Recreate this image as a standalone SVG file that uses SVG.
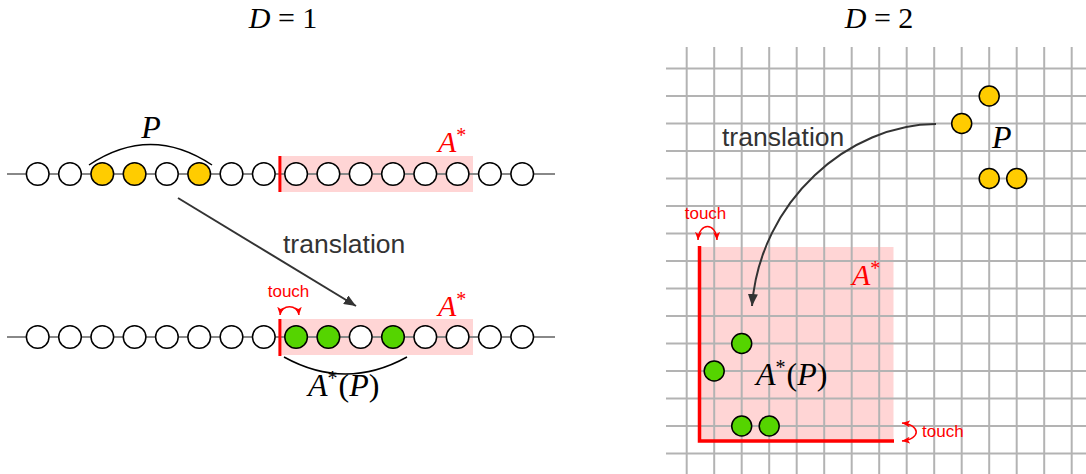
<svg xmlns="http://www.w3.org/2000/svg" width="1086" height="474" viewBox="0 0 1086 474">
<style>
.wire{stroke:#888;stroke-width:2;fill:none}
.c{fill:#fff;stroke:#000;stroke-width:1.5}
.y{fill:#ffcc00;stroke:#000;stroke-width:1.5}
.g{fill:#55d400;stroke:#000;stroke-width:1.5}
.grid line{stroke:#b3b3b3;stroke-width:2}
.math{font-family:"Liberation Serif","DejaVu Serif",serif;font-size:30px}
.big{font-size:32px}
.it{font-style:italic}
.red{fill:#ff0000}
.sans{font-family:"Liberation Sans",Arial,sans-serif}
.tr{font-size:26.5px;fill:#333}
.touch{font-size:17px;fill:#ff0000}
.brace{fill:none;stroke:#000;stroke-width:1.5}
.arrow{fill:none;stroke:#333;stroke-width:2}
.tarrow{fill:none;stroke:#ff0000;stroke-width:1.5}
</style>
<defs>
<marker id="ah" viewBox="0 0 12 10" refX="12" refY="5" markerWidth="12" markerHeight="10" markerUnits="userSpaceOnUse" orient="auto"><path d="M0,0 L12,5 L0,10 z" fill="#333"/></marker>
<marker id="rh" viewBox="0 0 8 7" refX="8" refY="3.5" markerWidth="8" markerHeight="7" markerUnits="userSpaceOnUse" orient="auto-start-reverse"><path d="M0,0 L8,3.5 L0,7 L2,3.5 z" fill="#ff0000"/></marker>
</defs>
<rect width="1086" height="474" fill="#fff"/>

<!-- titles -->
<g id="title-d1"><text class="math" x="283" y="28" text-anchor="middle"><tspan class="it">D</tspan> = 1</text></g>
<g id="title-d2"><text class="math" x="879" y="28" text-anchor="middle"><tspan class="it">D</tspan> = 2</text></g>

<!-- ===== D=1 panel ===== -->
<g id="region-a-top"><rect x="281" y="156" width="192" height="36" fill="#ffd5d5"/></g>
<g id="region-a-bottom"><rect x="281" y="319" width="192" height="36" fill="#ffd5d5"/></g>
<line class="wire" x1="7" y1="174" x2="555" y2="174"/>
<line class="wire" x1="7" y1="337" x2="555" y2="337"/>

<g id="row-top">
<g id="t0"><circle class="c" cx="37.7" cy="174" r="11.3"/></g>
<g id="t1"><circle class="c" cx="70" cy="174" r="11.3"/></g>
<g id="t2"><circle class="y" cx="102.3" cy="174" r="11.3"/></g>
<g id="t3"><circle class="y" cx="134.6" cy="174" r="11.3"/></g>
<g id="t4"><circle class="c" cx="166.9" cy="174" r="11.3"/></g>
<g id="t5"><circle class="y" cx="199.2" cy="174" r="11.3"/></g>
<g id="t6"><circle class="c" cx="231.5" cy="174" r="11.3"/></g>
<g id="t7"><circle class="c" cx="263.8" cy="174" r="11.3"/></g>
<g id="t8"><circle class="c" cx="296.1" cy="174" r="11.3"/></g>
<g id="t9"><circle class="c" cx="328.4" cy="174" r="11.3"/></g>
<g id="t10"><circle class="c" cx="360.7" cy="174" r="11.3"/></g>
<g id="t11"><circle class="c" cx="393" cy="174" r="11.3"/></g>
<g id="t12"><circle class="c" cx="425.3" cy="174" r="11.3"/></g>
<g id="t13"><circle class="c" cx="457.6" cy="174" r="11.3"/></g>
<g id="t14"><circle class="c" cx="489.9" cy="174" r="11.3"/></g>
<g id="t15"><circle class="c" cx="522.2" cy="174" r="11.3"/></g>
</g>
<g id="row-bottom">
<g id="b0"><circle class="c" cx="37.7" cy="337" r="11.3"/></g>
<g id="b1"><circle class="c" cx="70" cy="337" r="11.3"/></g>
<g id="b2"><circle class="c" cx="102.3" cy="337" r="11.3"/></g>
<g id="b3"><circle class="c" cx="134.6" cy="337" r="11.3"/></g>
<g id="b4"><circle class="c" cx="166.9" cy="337" r="11.3"/></g>
<g id="b5"><circle class="c" cx="199.2" cy="337" r="11.3"/></g>
<g id="b6"><circle class="c" cx="231.5" cy="337" r="11.3"/></g>
<g id="b7"><circle class="c" cx="263.8" cy="337" r="11.3"/></g>
<g id="b8"><circle class="g" cx="296.1" cy="337" r="11.3"/></g>
<g id="b9"><circle class="g" cx="328.4" cy="337" r="11.3"/></g>
<g id="b10"><circle class="c" cx="360.7" cy="337" r="11.3"/></g>
<g id="b11"><circle class="g" cx="393" cy="337" r="11.3"/></g>
<g id="b12"><circle class="c" cx="425.3" cy="337" r="11.3"/></g>
<g id="b13"><circle class="c" cx="457.6" cy="337" r="11.3"/></g>
<g id="b14"><circle class="c" cx="489.9" cy="337" r="11.3"/></g>
<g id="b15"><circle class="c" cx="522.2" cy="337" r="11.3"/></g>
</g>

<g id="boundary-top"><rect x="278.4" y="156" width="3" height="36" fill="#ff0000"/></g>
<g id="boundary-bottom"><rect x="278.4" y="319" width="3" height="37" fill="#ff0000"/></g>

<g id="label-p1">
<path class="brace" d="M89 165 Q150.5 124 212 165"/>
<text class="math big it" x="151" y="138" text-anchor="middle">P</text>
</g>
<g id="label-astar-top"><text class="math red" x="438" y="152"><tspan class="it">A</tspan><tspan font-size="20" dy="-10">*</tspan></text></g>
<g id="label-astar-bottom"><text class="math red" x="438" y="316"><tspan class="it">A</tspan><tspan font-size="20" dy="-10">*</tspan></text></g>
<g id="label-ap1">
<path class="brace" d="M284 357 Q345.5 391 407 357"/>
<text class="math big" x="308" y="396"><tspan class="it">A</tspan><tspan font-size="20" dy="-11">*</tspan><tspan dx="1" dy="11">(</tspan><tspan class="it">P</tspan>)</text>
</g>
<g id="label-touch1"><text class="sans touch" x="288.5" y="297" text-anchor="middle">touch</text></g>

<!-- ===== D=2 panel ===== -->
<g id="region-a-2d"><rect x="699.5" y="247" width="194" height="194" fill="#ffd5d5"/></g>
<g id="grid" class="grid">
<line x1="686.7" y1="47" x2="686.7" y2="474"/>
<line x1="714.2" y1="47" x2="714.2" y2="474"/>
<line x1="741.7" y1="47" x2="741.7" y2="474"/>
<line x1="769.2" y1="47" x2="769.2" y2="474"/>
<line x1="796.7" y1="47" x2="796.7" y2="474"/>
<line x1="824.2" y1="47" x2="824.2" y2="474"/>
<line x1="851.7" y1="47" x2="851.7" y2="474"/>
<line x1="879.2" y1="47" x2="879.2" y2="474"/>
<line x1="906.7" y1="47" x2="906.7" y2="474"/>
<line x1="934.2" y1="47" x2="934.2" y2="474"/>
<line x1="961.7" y1="47" x2="961.7" y2="474"/>
<line x1="989.2" y1="47" x2="989.2" y2="474"/>
<line x1="1016.7" y1="47" x2="1016.7" y2="474"/>
<line x1="1044.2" y1="47" x2="1044.2" y2="474"/>
<line x1="1071.7" y1="47" x2="1071.7" y2="474"/>
<line x1="666" y1="68.5" x2="1086" y2="68.5"/>
<line x1="666" y1="96" x2="1086" y2="96"/>
<line x1="666" y1="123.5" x2="1086" y2="123.5"/>
<line x1="666" y1="151" x2="1086" y2="151"/>
<line x1="666" y1="178.5" x2="1086" y2="178.5"/>
<line x1="666" y1="206" x2="1086" y2="206"/>
<line x1="666" y1="233.5" x2="1086" y2="233.5"/>
<line x1="666" y1="261" x2="1086" y2="261"/>
<line x1="666" y1="288.5" x2="1086" y2="288.5"/>
<line x1="666" y1="316" x2="1086" y2="316"/>
<line x1="666" y1="343.5" x2="1086" y2="343.5"/>
<line x1="666" y1="371" x2="1086" y2="371"/>
<line x1="666" y1="398.5" x2="1086" y2="398.5"/>
<line x1="666" y1="426" x2="1086" y2="426"/>
<line x1="666" y1="453.5" x2="1086" y2="453.5"/>
</g>
<g id="boundary-2d"><path d="M699.5 246 L699.5 441 L894 441" fill="none" stroke="#ff0000" stroke-width="3.5"/></g>

<g id="p2d">
<g id="p0"><circle class="y" cx="989.2" cy="96" r="10"/></g>
<g id="p1"><circle class="y" cx="961.7" cy="123.5" r="10"/></g>
<g id="p2"><circle class="y" cx="989.2" cy="178.5" r="10"/></g>
<g id="p3"><circle class="y" cx="1016.7" cy="178.5" r="10"/></g>
</g>
<g id="ap2d">
<g id="q0"><circle class="g" cx="741.7" cy="343.5" r="10"/></g>
<g id="q1"><circle class="g" cx="714.2" cy="371" r="10"/></g>
<g id="q2"><circle class="g" cx="741.7" cy="426" r="10"/></g>
<g id="q3"><circle class="g" cx="769.2" cy="426" r="10"/></g>
</g>

<g id="label-p2"><text class="math big it" x="992" y="148">P</text></g>
<g id="label-astar-2d"><text class="math red" x="852" y="285"><tspan class="it">A</tspan><tspan font-size="20" dy="-10">*</tspan></text></g>
<g id="label-ap2"><text class="math big" x="756" y="385"><tspan class="it">A</tspan><tspan font-size="20" dy="-11">*</tspan><tspan dx="1" dy="11">(</tspan><tspan class="it">P</tspan>)</text></g>
<g id="label-touch2"><text class="sans touch" x="705.5" y="219" text-anchor="middle">touch</text></g>
<g id="label-touch3"><text class="sans touch" x="922" y="437">touch</text></g>

<!-- connectors -->
<g id="connectors">
<line class="arrow" x1="178" y1="198" x2="356" y2="306" marker-end="url(#ah)"/>
<text class="sans tr" x="283" y="253">translation</text>
<path class="arrow" d="M936 124 C850 124 760 200 752 306" marker-end="url(#ah)"/>
<text class="sans tr" x="722" y="146">translation</text>
<path class="tarrow" d="M280 315 C281 304 298 304 299 315" marker-start="url(#rh)" marker-end="url(#rh)"/>
<path class="tarrow" d="M698 240 C699 222 716 222 717 240" marker-start="url(#rh)" marker-end="url(#rh)"/>
<path class="tarrow" d="M902 423 C921 425 921 439 902 441" marker-start="url(#rh)" marker-end="url(#rh)"/>
</g>
</svg>
